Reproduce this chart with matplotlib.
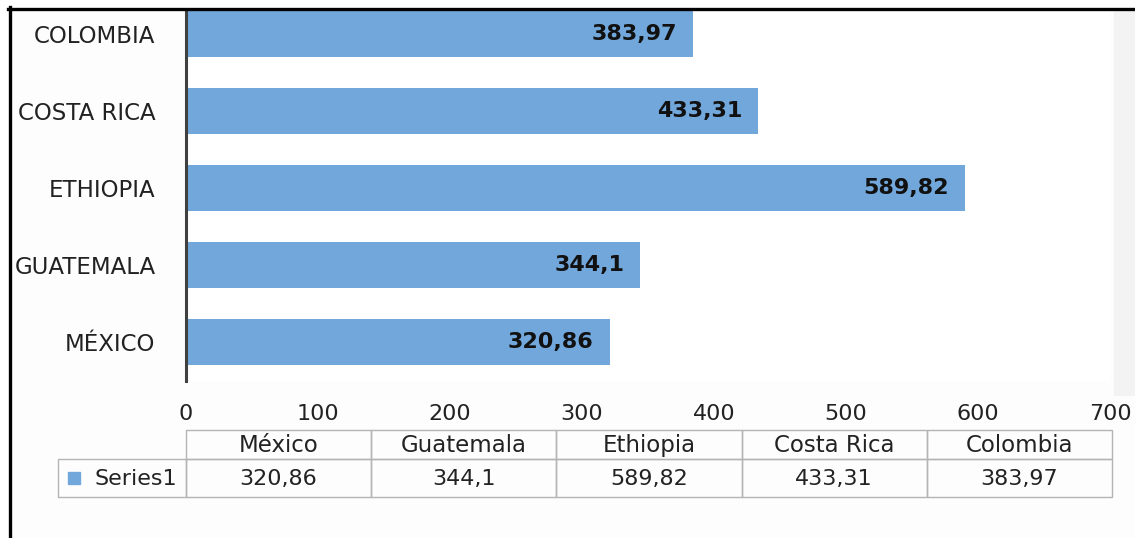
import matplotlib
matplotlib.use("Agg")
import matplotlib.pyplot as plt
from matplotlib.lines import Line2D
from matplotlib.patches import Rectangle

# data
countries = ["MÉXICO", "GUATEMALA", "ETHIOPIA", "COSTA RICA", "COLOMBIA"]
table_names = ["México", "Guatemala", "Ethiopia", "Costa Rica", "Colombia"]
values = [320.86, 344.1, 589.82, 433.31, 383.97]
value_labels = ["320,86", "344,1", "589,82", "433,31", "383,97"]
x_ticks = [0, 100, 200, 300, 400, 500, 600, 700]
series_name = "Series1"

W, H = 1135, 538
BAR = "#72A7DB"
GRID = "#b4b4b4"
FONT = "DejaVu Sans"
TXT = "#222222"


def px(x0, y0, x1, y1):
    """pixel box (origin top-left) -> figure-fraction rect"""
    return [x0 / W, 1 - y1 / H, (x1 - x0) / W, (y1 - y0) / H]


fig = plt.figure(figsize=(W / 100, H / 100), dpi=100)
fig.patch.set_facecolor("#fdfdfd")

# light band at the right edge of the screenshot, behind everything
bg = fig.add_axes(px(0, 0, W, H), zorder=-5)
bg.set_xlim(0, W)
bg.set_ylim(H, 0)
bg.axis("off")
bg.add_patch(Rectangle((1114, 10), W - 1114, 385, color="#f3f3f3"))
bg.add_line(Line2D([1114, W], [10, 10], color="#c4c4c4", lw=1.2))

# bar chart
ax = fig.add_axes(px(186, -4.5, 1110, 380.5))
ax.set_facecolor("white")
ypos = list(range(len(countries)))
ax.barh(ypos, values, height=0.6, color=BAR)
ax.set_xlim(0, 700)
ax.set_ylim(-0.5, 4.5)
for side in ("top", "right", "bottom"):
    ax.spines[side].set_visible(False)
ax.spines["left"].set_color("#404040")
ax.spines["left"].set_linewidth(2.2)
ax.set_xticks(x_ticks)
ax.set_xticklabels([str(t) for t in x_ticks], fontsize=16, family=FONT, color=TXT)
ax.tick_params(axis="x", length=0, pad=17)
ax.set_yticks(ypos)
ax.set_yticklabels(countries, fontsize=16.5, family=FONT, color=TXT)
ax.tick_params(axis="y", length=0, pad=22)

for i, (v, lbl) in enumerate(zip(values, value_labels)):
    ax.annotate(lbl, (v, i), xytext=(-11.5, 0), textcoords="offset points",
                ha="right", va="center", fontsize=16, fontweight="bold",
                family=FONT, color="#111111")

# data table under the chart, drawn in pixel coordinates
tax = fig.add_axes(px(0, 0, W, H))
tax.set_xlim(0, W)
tax.set_ylim(H, 0)
tax.axis("off")
tax.patch.set_alpha(0)

left, right = 186, 1112
top, mid, bottom = 430, 459, 497
leg_left = 58
n = len(table_names)
col_w = (right - left) / n
edges = [left + k * col_w for k in range(n + 1)]

for k, (name, lbl) in enumerate(zip(table_names, value_labels)):
    x0 = edges[k]
    tax.add_patch(Rectangle((x0, top), col_w, mid - top, fill=False, edgecolor=GRID, lw=1))
    tax.add_patch(Rectangle((x0, mid), col_w, bottom - mid, fill=False, edgecolor=GRID, lw=1))
    tax.text(x0 + col_w / 2, (top + mid) / 2 + 1, name, ha="center", va="center",
             fontsize=16.5, family=FONT, color=TXT)
    tax.text(x0 + col_w / 2, (mid + bottom) / 2 + 1, lbl, ha="center", va="center",
             fontsize=16, family=FONT, color=TXT)

tax.add_patch(Rectangle((leg_left, mid), left - leg_left, bottom - mid, fill=False,
                        edgecolor=GRID, lw=1))
tax.add_patch(Rectangle((68, 472), 12, 12, color=BAR))
tax.text(95, (mid + bottom) / 2 + 1, series_name, ha="left", va="center",
         fontsize=16, family=FONT, color=TXT)

# screenshot frame
tax.add_patch(Rectangle((0, 0), W, 7, color="white", zorder=4))
tax.add_patch(Rectangle((0, 0), 8, H, color="white", zorder=4))
tax.add_line(Line2D([8, W], [8.5, 8.5], color="black", lw=2.4, zorder=5))
tax.add_line(Line2D([9.5, 9.5], [7, H], color="black", lw=2.4, zorder=5))

fig.savefig("out.png", dpi=100, facecolor=fig.get_facecolor())
